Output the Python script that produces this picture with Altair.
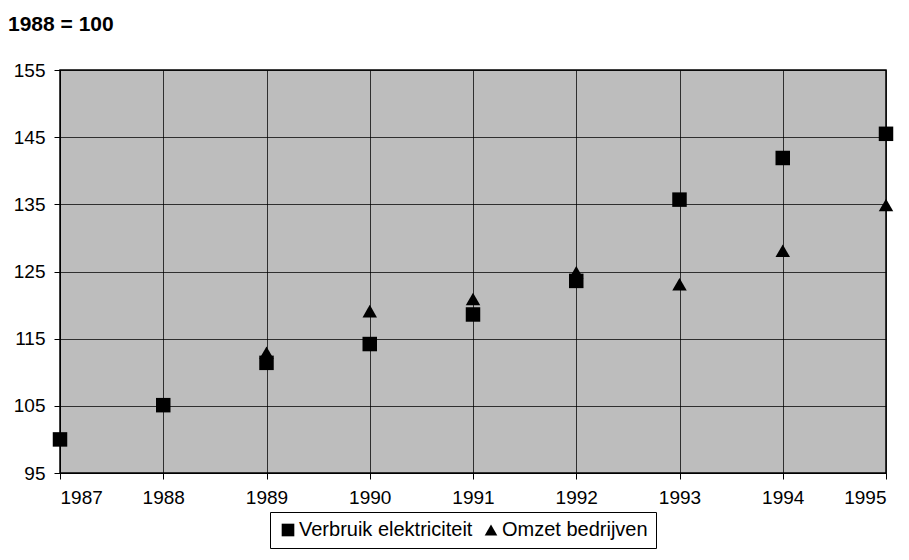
import altair as alt
import pandas as pd

years = [1987, 1988, 1989, 1990, 1991, 1992, 1993, 1994, 1995]
verbruik = [100.0, 105.1, 111.4, 114.2, 118.6, 123.6, 135.7, 141.9, 145.5]
omzet = [None, None, 112.9, 119.1, 120.9, 124.9, 123.1, 128.1, 134.9]
series_names = ["Verbruik elektriciteit", "Omzet bedrijven"]
y_ticks = [95, 105, 115, 125, 135, 145, 155]
title_text = "1988 = 100"

rows = []
for yr, v, o in zip(years, verbruik, omzet):
    if v is not None:
        rows.append({"jaar": yr, "waarde": v, "reeks": series_names[0]})
    if o is not None:
        rows.append({"jaar": yr, "waarde": o, "reeks": series_names[1]})
df = pd.DataFrame(rows)

FONT = "Liberation Sans"

chart = alt.Chart(df).mark_point(filled=True, opacity=1, size=210, color="black").encode(
    x=alt.X("jaar:Q", scale=alt.Scale(domain=[1987, 1995], nice=False, zero=False),
            axis=alt.Axis(values=years, format="d", title=None, labelFontSize=19,
                          labelPadding=9, tickSize=6, tickColor="black",
                          domainColor="black", gridColor="black", gridWidth=1,
                          gridOpacity=0.75, labelColor="black", labelFont=FONT)),
    y=alt.Y("waarde:Q", scale=alt.Scale(domain=[95, 155], nice=False, zero=False),
            axis=alt.Axis(values=y_ticks, title=None, labelFontSize=19,
                          labelPadding=9, tickSize=6, tickColor="black",
                          domainColor="black", gridColor="black", gridWidth=1,
                          gridOpacity=0.75, labelColor="black", labelFont=FONT)),
    shape=alt.Shape("reeks:N",
                    scale=alt.Scale(domain=series_names, range=["square", "triangle-up"]),
                    legend=alt.Legend(title=None, orient="none", legendX=210, legendY=442,
                                      direction="horizontal", columns=2,
                                      labelFontSize=20, labelFont=FONT, labelColor="black",
                                      symbolFillColor="black", symbolStrokeColor="black",
                                      symbolSize=160, labelOffset=1, columnPadding=8,
                                      strokeColor="black", padding=8, labelLimit=300)),
).properties(
    width=826,
    height=403,
    background="white",
    title=alt.TitleParams(title_text, anchor="start", frame="group", dx=-52, offset=26,
                          fontSize=21, fontWeight="bold", font=FONT, color="black"),
    autosize=alt.AutoSizeParams(type="none"),
    padding={"left": 60, "top": 70, "right": 23, "bottom": 87},
).configure_view(
    fill="#bdbdbd", stroke="black", strokeWidth=1.5
)

chart.save("out.html", embed_options={"renderer": "svg", "actions": False})
